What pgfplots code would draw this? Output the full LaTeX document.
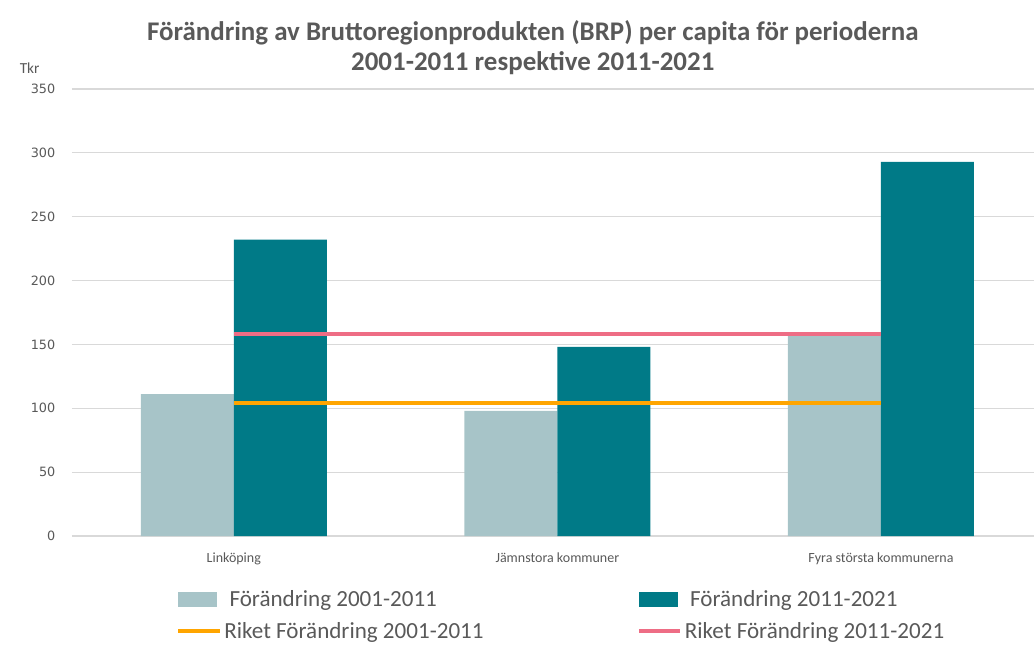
\documentclass[border=0pt]{standalone}
\usepackage{pgfplots}
\pgfplotsset{compat=1.18}
\usepackage{fontspec}
\setmainfont{Carlito}
\newfontfamily\verd{DejaVu Sans}
\definecolor{lightbar}{HTML}{A7C4C8}
\definecolor{tealbar}{HTML}{007A87}
\definecolor{orangeline}{HTML}{FFA500}
\definecolor{pinkline}{HTML}{EE6D85}
\definecolor{gridc}{HTML}{D9D9D9}
\definecolor{txt}{HTML}{595959}
\begin{document}
\begin{tikzpicture}
\useasboundingbox (0,0) rectangle (775.5pt,483pt);
\begin{axis}[
  at={(54pt,81pt)}, anchor=south west,
  scale only axis,
  width=721.5pt, height=335.25pt,
  xmin=-0.5, xmax=2.473,
  ymin=0, ymax=350,
  ytick={0,50,...,350},
  xtick={0,1,2},
  xticklabels={Linköping, Jämnstora kommuner, Fyra största kommunerna},
  xticklabel style={font=\fontsize{10.5}{12}\selectfont, text=txt, yshift=-9pt},
  yticklabel style={font=\verd\fontsize{9.6}{11}\selectfont, text=txt, xshift=-9pt},
  /pgf/number format/assume math mode=true,
  axis line style={draw=none},
  axis x line*=bottom,
  x axis line style={draw=gridc, line width=0.8pt},
  major tick length=0pt,
  ymajorgrids, grid style={gridc, line width=0.8pt},
  title={Förändring av Bruttoregionprodukten (BRP) per capita för perioderna\\2001-2011 respektive 2011-2021},
  title style={font=\bfseries\fontsize{20.2}{22.5}\selectfont, text=txt, align=center, at={(rel axis cs:0.479,1)}, anchor=south, yshift=1.2pt},
  legend columns=2,
  legend cell align=left,
  legend style={draw=none, fill=none, at={(rel axis cs:0.104,-0.11)}, anchor=north west,
    font=\fontsize{17.3}{20}\selectfont, text=txt,
    /tikz/every even column/.append style={column sep=113pt},
    row sep=6pt},
  clip=false,
]
\addplot[ybar, bar width=69.75pt, bar shift=-34.875pt, fill=lightbar, draw=none,
  legend image code/.code={\fill[lightbar] (0pt,-5.5pt) rectangle (29pt,5.5pt);}]
  coordinates {(0,111) (1,98) (2,157)};
\addlegendentry{\ Förändring 2001-2011}
\addplot[ybar, bar width=69.75pt, bar shift=34.875pt, fill=tealbar, draw=none,
  legend image code/.code={\fill[tealbar] (0pt,-5.5pt) rectangle (29pt,5.5pt);}]
  coordinates {(0,232) (1,148) (2,293)};
\addlegendentry{\ Förändring 2011-2021}
\addplot[sharp plot, no marks, orangeline, line width=3pt,
  legend image code/.code={\draw[orangeline, line width=3pt] (0pt,0pt) -- (31pt,0pt);}]
  coordinates {(0,104) (1,104) (2,104)};
\addlegendentry{Riket Förändring 2001-2011}
\addplot[sharp plot, no marks, pinkline, line width=3pt,
  legend image code/.code={\draw[pinkline, line width=3pt] (0pt,0pt) -- (31pt,0pt);}]
  coordinates {(0,158) (1,158) (2,158)};
\addlegendentry{Riket Förändring 2011-2021}
\node[font=\fontsize{11.5}{13}\selectfont, text=txt] at (rel axis cs:-0.044,1.047) {Tkr};
\end{axis}
\end{tikzpicture}
\end{document}
